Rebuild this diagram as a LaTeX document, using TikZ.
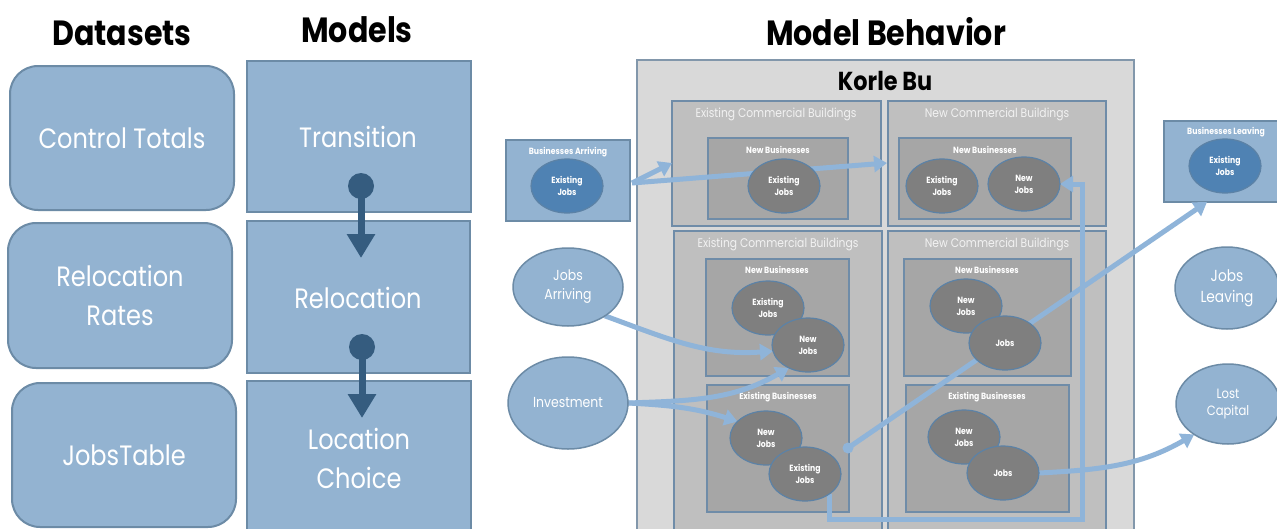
\documentclass[tikz,border=0pt]{standalone}
\usepackage{fontspec}
\setmainfont{Poppins}[FakeStretch=0.86]
\usetikzlibrary{arrows.meta,shapes.geometric}
\definecolor{lb}{HTML}{93B3D1}
\definecolor{lbd}{HTML}{6C8BA6}
\definecolor{dk}{HTML}{355C7F}
\definecolor{ar}{HTML}{8FB4D9}
\definecolor{gA}{HTML}{D9D9D9}
\definecolor{gB}{HTML}{BFBFBF}
\definecolor{gC}{HTML}{A6A6A6}
\definecolor{gD}{HTML}{7F7F7F}
\definecolor{kbb}{HTML}{8297AB}
\definecolor{bb}{HTML}{6F8CA8}
\definecolor{eb}{HTML}{5C82A6}
\definecolor{mb}{HTML}{4F82B3}
\definecolor{lt}{HTML}{F2F2F2}
\pgfdeclarelayer{back}
\pgfdeclarelayer{mid}
\pgfsetlayers{back,mid,main}
\begin{document}
\begin{tikzpicture}[x=1pt,y=-1pt,
  every node/.style={inner sep=0pt,outer sep=0pt},
  ttl/.style={font=\fontsize{35}{35}\selectfont\bfseries, text=black},
  dsbox/.style={draw=lbd, line width=2pt, fill=lb, rounded corners=28pt, anchor=north west, text=white, font=\fontsize{28}{39}\selectfont, align=center},
  mdbox/.style={draw=lbd, line width=2pt, fill=lb, anchor=north west, text=white, font=\fontsize{28}{39}\selectfont, align=center},
  kbbox/.style={draw=kbb, line width=1.5pt, fill=gA, anchor=north west},
  cbbox/.style={draw=bb, line width=1.5pt, fill=gB, anchor=north west},
  nbbox/.style={draw=bb, line width=1.5pt, fill=gC, anchor=north west},
  cblab/.style={text=lt, font=\fontsize{12.5}{13}\selectfont},
  nblab/.style={text=white, font=\fontsize{9}{10}\selectfont\bfseries},
  gel/.style={ellipse, draw=eb, line width=1.2pt, fill=gD, minimum width=72pt, minimum height=54pt, text=white, font=\fontsize{9}{12}\selectfont\bfseries, align=center},
  bel/.style={gel, fill=mb, draw=eb},
  lel/.style={ellipse, draw=lbd, line width=1.5pt, fill=lb, text=white, align=center},
  arr/.style={draw=ar, line width=5pt, -{Triangle[width=16pt,length=13pt]}},
  dkarr/.style={draw=dk, line width=7pt, -{Triangle[width=27pt,length=24pt]}}
]
\useasboundingbox (0,0) rectangle (1277,528);
\begin{pgfonlayer}{back}
\fill[white] (0,0) rectangle (1277,528);
\end{pgfonlayer}

% titles
\node[ttl] (tds) at (122,33) {Datasets};
\node[ttl] (tmd) at (357,30) {Models};
\node[ttl] (tmb) at (886,32) {Model Behavior};

% datasets
\node[dsbox, minimum width=224pt, minimum height=144pt] (ct) at (10,66) {Control Totals};
\node[dsbox, minimum width=224pt, minimum height=145pt] (rr) at (8,223) {Relocation\\Rates};
\node[dsbox, minimum width=224pt, minimum height=144pt] (jt) at (12,383) {JobsTable};

% models
\node[mdbox, minimum width=224pt, minimum height=151pt] (tr) at (247,61) {};
\node[text=white, font=\fontsize{28}{39}\selectfont] (trl) at (358,137) {Transition};
\node[mdbox, minimum width=223pt, minimum height=152pt] (rl) at (247,221) {};
\node[text=white, font=\fontsize{28}{39}\selectfont] (rll) at (358,298) {Relocation};
\node[mdbox, minimum width=224pt, minimum height=160pt] (lc) at (247,381) {};
\node[text=white, font=\fontsize{28}{39}\selectfont, align=center] (lcl) at (359,458) {Location\\Choice};

\coordinate (d1) at (361,186);
\coordinate (t1) at (361,258);
\coordinate (d2) at (362,347);
\coordinate (t2) at (362,418);
\draw[dkarr] (d1) -- (t1);
\fill[dk] (d1) circle (13pt);
\draw[dkarr] (d2) -- (t2);
\fill[dk] (d2) circle (13pt);

% model behavior boxes
\begin{pgfonlayer}{back}
\node[kbbox, minimum width=497pt, minimum height=480pt] (kb) at (637,60) {};
\node[font=\fontsize{26}{26}\selectfont\bfseries, text=black] (kbl) at (885,81) {Korle Bu};

\node[cbbox, minimum width=209pt, minimum height=125pt] (ecb1) at (672,101) {};
\node[cblab] at (776,114) {Existing Commercial Buildings};
\node[nbbox, minimum width=140pt, minimum height=81pt] (nb1) at (708,138) {};
\node[nblab] at (778,150) {New Businesses};

\node[cbbox, minimum width=218pt, minimum height=125pt] (ncb1) at (888,101) {};
\node[cblab] at (997,114) {New Commercial Buildings};
\node[nbbox, minimum width=172pt, minimum height=81pt] (nb2) at (899,138) {};
\node[nblab] at (985,150) {New Businesses};

\node[cbbox, minimum width=208pt, minimum height=310pt] (ecb2) at (674,231) {};
\node[cblab] at (778,244) {Existing Commercial Buildings};
\node[nbbox, minimum width=143pt, minimum height=117pt] (nb3) at (706,259) {};
\node[nblab] at (777,270) {New Businesses};
\node[nbbox, minimum width=142pt, minimum height=127pt] (eb1) at (707,385) {};
\node[nblab] at (778,397) {Existing Businesses};

\node[cbbox, minimum width=218pt, minimum height=310pt] (ncb2) at (888,231) {};
\node[cblab] at (997,244) {New Commercial Buildings};
\node[nbbox, minimum width=167pt, minimum height=117pt] (nb4) at (904,259) {};
\node[nblab] at (987,270) {New Businesses};
\node[nbbox, minimum width=163pt, minimum height=127pt] (eb2) at (906,385) {};
\node[nblab] at (987,397) {Existing Businesses};

% outside boxes
\node[draw=lbd, line width=1.5pt, fill=lb, anchor=north west, minimum width=124pt, minimum height=81pt] (ba) at (506,140) {};
\node[nblab] at (568,152) {Businesses Arriving};
\node[draw=lbd, line width=1.5pt, fill=lb, anchor=north west, minimum width=130pt, minimum height=81pt] (bl) at (1164,121) {};
\node[nblab] at (1226,132) {Businesses Leaving};
\end{pgfonlayer}

% ellipses
\node[bel] (baj) at (567,186) {Existing\\Jobs};
\node[bel] (blj) at (1225,166) {Existing\\Jobs};

\node[gel] (ej1) at (784,186) {Existing\\Jobs};
\node[gel] (ej2) at (942,186) {Existing\\Jobs};
\node[gel] (nj2) at (1024,184) {New\\Jobs};

\node[gel] (ej3) at (768,308) {Existing\\Jobs};
\node[gel] (nj3) at (808,345) {New\\Jobs};
\node[gel] (nj4) at (766,438) {New\\Jobs};
\node[gel] (ej4) at (805,474) {Existing\\Jobs};

\node[gel] (nj5) at (966,306) {New\\Jobs};
\node[gel] (j5) at (1005,343) {Jobs};
\node[gel] (nj6) at (964,437) {New\\Jobs};
\node[gel] (j6) at (1003,473) {Jobs};

\node[lel, minimum width=110pt, minimum height=78pt, font=\fontsize{14.5}{19}\selectfont] (ja) at (568,287) {Jobs\\Arriving};
\node[lel, minimum width=120pt, minimum height=92pt, font=\fontsize{14.5}{19}\selectfont] (inv) at (568,403) {Investment};
\node[lel, minimum width=104pt, minimum height=82pt, font=\fontsize{16}{21}\selectfont] (jl) at (1227,288) {Jobs\\Leaving};
\node[lel, minimum width=104pt, minimum height=80pt, font=\fontsize{13.5}{17}\selectfont] (lcap) at (1228,404) {Lost\\Capital};

% connectors
\coordinate (bas) at (632,183);
\coordinate (ecbin) at (672,163);
\coordinate (ncbin) at (887,163);
\coordinate (lp) at (1082,519);
\coordinate (dot) at (848,448);
\coordinate (blin) at (1207,202);
\begin{pgfonlayer}{mid}
\draw[arr] (bas) -- (ecbin);
\draw[arr] (bas) -- (ncbin);
\draw[arr] (ej4.-40) |- (lp) |- (nj2.east);
\draw[arr] (dot) -- (blin);
\fill[ar] (dot) circle (5.5pt);
\draw[arr] (ja.-38) to[out=-20,in=184] (nj3.190);
\draw[arr] (inv.east) to[out=2,in=-150] (nj3.230);
\draw[arr] (inv.east) to[out=-3,in=162] (nj4.150);
\draw[arr] (j6.east) to[out=3,in=-150] (lcap.-138);
\end{pgfonlayer}
\end{tikzpicture}
\end{document}
